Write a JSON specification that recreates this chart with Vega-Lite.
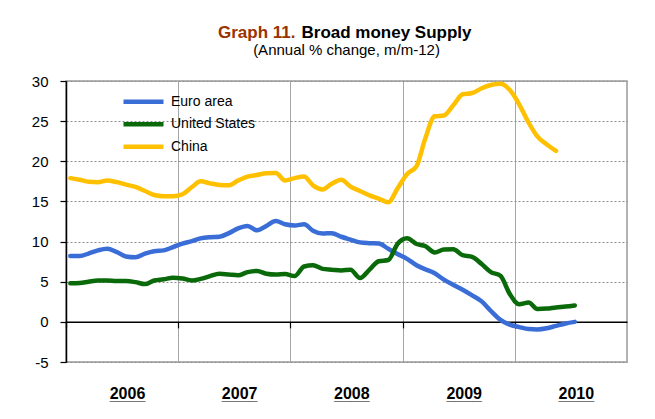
{
  "$schema": "https://vega.github.io/schema/vega-lite/v6.json",
  "width": 561,
  "height": 281,
  "autosize": {"type": "none"},
  "padding": {"left": 66, "top": 81, "right": 28, "bottom": 57},
  "background": "white",
  "config": {
    "font": "Liberation Sans",
    "view": {"stroke": "#9a9a9a", "strokeWidth": 1.5}
  },
  "data": {"values": [
    {"date":"2006-01-15","series":"Euro area","value":8.2},
    {"date":"2006-02-15","series":"Euro area","value":8.2},
    {"date":"2006-03-15","series":"Euro area","value":8.5},
    {"date":"2006-04-15","series":"Euro area","value":8.9},
    {"date":"2006-05-15","series":"Euro area","value":9.1},
    {"date":"2006-06-15","series":"Euro area","value":8.7},
    {"date":"2006-07-15","series":"Euro area","value":8.15},
    {"date":"2006-08-15","series":"Euro area","value":8.05},
    {"date":"2006-09-15","series":"Euro area","value":8.5},
    {"date":"2006-10-15","series":"Euro area","value":8.8},
    {"date":"2006-11-15","series":"Euro area","value":8.9},
    {"date":"2006-12-15","series":"Euro area","value":9.3},
    {"date":"2007-01-15","series":"Euro area","value":9.75},
    {"date":"2007-02-15","series":"Euro area","value":10.05},
    {"date":"2007-03-15","series":"Euro area","value":10.4},
    {"date":"2007-04-15","series":"Euro area","value":10.55},
    {"date":"2007-05-15","series":"Euro area","value":10.6},
    {"date":"2007-06-15","series":"Euro area","value":11.05},
    {"date":"2007-07-15","series":"Euro area","value":11.65},
    {"date":"2007-08-15","series":"Euro area","value":11.95},
    {"date":"2007-09-15","series":"Euro area","value":11.4},
    {"date":"2007-10-15","series":"Euro area","value":11.95},
    {"date":"2007-11-15","series":"Euro area","value":12.55},
    {"date":"2007-12-15","series":"Euro area","value":12.15},
    {"date":"2008-01-15","series":"Euro area","value":12.0},
    {"date":"2008-02-15","series":"Euro area","value":12.15},
    {"date":"2008-03-15","series":"Euro area","value":11.35},
    {"date":"2008-04-15","series":"Euro area","value":11.0},
    {"date":"2008-05-15","series":"Euro area","value":11.05},
    {"date":"2008-06-15","series":"Euro area","value":10.6},
    {"date":"2008-07-15","series":"Euro area","value":10.25},
    {"date":"2008-08-15","series":"Euro area","value":9.9},
    {"date":"2008-09-15","series":"Euro area","value":9.8},
    {"date":"2008-10-15","series":"Euro area","value":9.75},
    {"date":"2008-11-15","series":"Euro area","value":9.1},
    {"date":"2008-12-15","series":"Euro area","value":8.45},
    {"date":"2009-01-15","series":"Euro area","value":7.85},
    {"date":"2009-02-15","series":"Euro area","value":7.05},
    {"date":"2009-03-15","series":"Euro area","value":6.55},
    {"date":"2009-04-15","series":"Euro area","value":6.05},
    {"date":"2009-05-15","series":"Euro area","value":5.25},
    {"date":"2009-06-15","series":"Euro area","value":4.6},
    {"date":"2009-07-15","series":"Euro area","value":4.0},
    {"date":"2009-08-15","series":"Euro area","value":3.3},
    {"date":"2009-09-15","series":"Euro area","value":2.55},
    {"date":"2009-10-15","series":"Euro area","value":1.35},
    {"date":"2009-11-15","series":"Euro area","value":0.25},
    {"date":"2009-12-15","series":"Euro area","value":-0.35},
    {"date":"2010-01-15","series":"Euro area","value":-0.65},
    {"date":"2010-02-15","series":"Euro area","value":-0.9},
    {"date":"2010-03-15","series":"Euro area","value":-0.95},
    {"date":"2010-04-15","series":"Euro area","value":-0.8},
    {"date":"2010-05-15","series":"Euro area","value":-0.5},
    {"date":"2010-06-15","series":"Euro area","value":-0.2},
    {"date":"2010-07-15","series":"Euro area","value":0.0},
    {"date":"2006-01-15","series":"United States","value":4.8},
    {"date":"2006-02-15","series":"United States","value":4.85},
    {"date":"2006-03-15","series":"United States","value":5.0},
    {"date":"2006-04-15","series":"United States","value":5.15},
    {"date":"2006-05-15","series":"United States","value":5.15},
    {"date":"2006-06-15","series":"United States","value":5.1},
    {"date":"2006-07-15","series":"United States","value":5.1},
    {"date":"2006-08-15","series":"United States","value":4.95},
    {"date":"2006-09-15","series":"United States","value":4.7},
    {"date":"2006-10-15","series":"United States","value":5.15},
    {"date":"2006-11-15","series":"United States","value":5.3},
    {"date":"2006-12-15","series":"United States","value":5.5},
    {"date":"2007-01-15","series":"United States","value":5.4},
    {"date":"2007-02-15","series":"United States","value":5.15},
    {"date":"2007-03-15","series":"United States","value":5.35},
    {"date":"2007-04-15","series":"United States","value":5.7},
    {"date":"2007-05-15","series":"United States","value":6.0},
    {"date":"2007-06-15","series":"United States","value":5.9},
    {"date":"2007-07-15","series":"United States","value":5.8},
    {"date":"2007-08-15","series":"United States","value":6.2},
    {"date":"2007-09-15","series":"United States","value":6.35},
    {"date":"2007-10-15","series":"United States","value":6.0},
    {"date":"2007-11-15","series":"United States","value":5.9},
    {"date":"2007-12-15","series":"United States","value":5.95},
    {"date":"2008-01-15","series":"United States","value":5.7},
    {"date":"2008-02-15","series":"United States","value":6.9},
    {"date":"2008-03-15","series":"United States","value":7.05},
    {"date":"2008-04-15","series":"United States","value":6.6},
    {"date":"2008-05-15","series":"United States","value":6.5},
    {"date":"2008-06-15","series":"United States","value":6.4},
    {"date":"2008-07-15","series":"United States","value":6.5},
    {"date":"2008-08-15","series":"United States","value":5.45},
    {"date":"2008-09-15","series":"United States","value":6.5},
    {"date":"2008-10-15","series":"United States","value":7.55},
    {"date":"2008-11-15","series":"United States","value":7.7},
    {"date":"2008-12-15","series":"United States","value":9.7},
    {"date":"2009-01-15","series":"United States","value":10.4},
    {"date":"2009-02-15","series":"United States","value":9.7},
    {"date":"2009-03-15","series":"United States","value":9.45},
    {"date":"2009-04-15","series":"United States","value":8.65},
    {"date":"2009-05-15","series":"United States","value":9.0},
    {"date":"2009-06-15","series":"United States","value":9.05},
    {"date":"2009-07-15","series":"United States","value":8.3},
    {"date":"2009-08-15","series":"United States","value":8.1},
    {"date":"2009-09-15","series":"United States","value":7.2},
    {"date":"2009-10-15","series":"United States","value":6.2},
    {"date":"2009-11-15","series":"United States","value":5.75},
    {"date":"2009-12-15","series":"United States","value":3.5},
    {"date":"2010-01-15","series":"United States","value":2.2},
    {"date":"2010-02-15","series":"United States","value":2.4},
    {"date":"2010-03-15","series":"United States","value":1.6},
    {"date":"2010-04-15","series":"United States","value":1.65},
    {"date":"2010-05-15","series":"United States","value":1.8},
    {"date":"2010-06-15","series":"United States","value":1.9},
    {"date":"2010-07-15","series":"United States","value":2.05},
    {"date":"2006-01-15","series":"China","value":17.9},
    {"date":"2006-02-15","series":"China","value":17.7},
    {"date":"2006-03-15","series":"China","value":17.45},
    {"date":"2006-04-15","series":"China","value":17.4},
    {"date":"2006-05-15","series":"China","value":17.6},
    {"date":"2006-06-15","series":"China","value":17.4},
    {"date":"2006-07-15","series":"China","value":17.1},
    {"date":"2006-08-15","series":"China","value":16.8},
    {"date":"2006-09-15","series":"China","value":16.3},
    {"date":"2006-10-15","series":"China","value":15.8},
    {"date":"2006-11-15","series":"China","value":15.65},
    {"date":"2006-12-15","series":"China","value":15.65},
    {"date":"2007-01-15","series":"China","value":15.9},
    {"date":"2007-02-15","series":"China","value":16.8},
    {"date":"2007-03-15","series":"China","value":17.5},
    {"date":"2007-04-15","series":"China","value":17.25},
    {"date":"2007-05-15","series":"China","value":17.05},
    {"date":"2007-06-15","series":"China","value":17.0},
    {"date":"2007-07-15","series":"China","value":17.6},
    {"date":"2007-08-15","series":"China","value":18.1},
    {"date":"2007-09-15","series":"China","value":18.3},
    {"date":"2007-10-15","series":"China","value":18.5},
    {"date":"2007-11-15","series":"China","value":18.55},
    {"date":"2007-12-15","series":"China","value":17.6},
    {"date":"2008-01-15","series":"China","value":17.9},
    {"date":"2008-02-15","series":"China","value":18.1},
    {"date":"2008-03-15","series":"China","value":17.0},
    {"date":"2008-04-15","series":"China","value":16.5},
    {"date":"2008-05-15","series":"China","value":17.2},
    {"date":"2008-06-15","series":"China","value":17.7},
    {"date":"2008-07-15","series":"China","value":16.85},
    {"date":"2008-08-15","series":"China","value":16.3},
    {"date":"2008-09-15","series":"China","value":15.75},
    {"date":"2008-10-15","series":"China","value":15.35},
    {"date":"2008-11-15","series":"China","value":14.9},
    {"date":"2008-12-15","series":"China","value":16.6},
    {"date":"2009-01-15","series":"China","value":18.4},
    {"date":"2009-02-15","series":"China","value":19.4},
    {"date":"2009-03-15","series":"China","value":22.8},
    {"date":"2009-04-15","series":"China","value":25.6},
    {"date":"2009-05-15","series":"China","value":25.7},
    {"date":"2009-06-15","series":"China","value":27.0},
    {"date":"2009-07-15","series":"China","value":28.35},
    {"date":"2009-08-15","series":"China","value":28.5},
    {"date":"2009-09-15","series":"China","value":29.1},
    {"date":"2009-10-15","series":"China","value":29.5},
    {"date":"2009-11-15","series":"China","value":29.65},
    {"date":"2009-12-15","series":"China","value":28.9},
    {"date":"2010-01-15","series":"China","value":27.1},
    {"date":"2010-02-15","series":"China","value":24.8},
    {"date":"2010-03-15","series":"China","value":23.1},
    {"date":"2010-04-15","series":"China","value":22.1},
    {"date":"2010-05-15","series":"China","value":21.3}
  ]},
  "layer": [
    {
      "mark": {"type": "line", "strokeWidth": 4.5, "interpolate": "monotone", "strokeCap": "round", "strokeJoin": "round"},
      "encoding": {
        "x": {
          "field": "date", "type": "temporal",
          "scale": {"domain": [{"year": 2006, "month": 1, "date": 1, "utc": true}, {"year": 2011, "month": 1, "date": 1, "utc": true}], "nice": false},
          "axis": {
            "orient": "bottom",
            "values": [
              {"year": 2006, "month": 1, "date": 1, "utc": true},
              {"year": 2007, "month": 1, "date": 1, "utc": true},
              {"year": 2008, "month": 1, "date": 1, "utc": true},
              {"year": 2009, "month": 1, "date": 1, "utc": true},
              {"year": 2010, "month": 1, "date": 1, "utc": true}
            ],
            "offset": -40.14,
            "domain": true, "domainColor": "black", "domainWidth": 1.5,
            "ticks": true, "tickColor": "black", "tickSize": 6, "tickWidth": 1.2,
            "grid": true, "gridColor": "#a6a6a6", "gridWidth": 1,
            "labelExpr": "[utcFormat(datum.value, '%Y'), '____']",
            "labelLineHeight": 1,
            "labelOffset": 61, "labelPadding": 71, "labelBaseline": "alphabetic", "labelAlign": "center",
            "labelFont": "Liberation Sans", "labelFontSize": 16, "labelFontWeight": "bold", "labelColor": "black",
            "labelFlush": false, "labelOverlap": false,
            "title": "(Annual % change, m/m-12)",
            "titleX": 280, "titleY": -267.8, "titleAlign": "center", "titleBaseline": "alphabetic",
            "titleFont": "Liberation Sans", "titleFontSize": 15, "titleFontWeight": "normal", "titleColor": "black"
          }
        },
        "y": {
          "field": "value", "type": "quantitative",
          "scale": {"domain": [-5, 30], "nice": false, "zero": false},
          "axis": {
            "values": [-5, 0, 5, 10, 15, 20, 25, 30],
            "labelExpr": "datum.value < 0 ? '-' + abs(datum.value) : '' + datum.value",
            "grid": true, "gridDash": [2, 2], "gridColor": "#8c8c8c", "gridWidth": 1,
            "domainColor": "black", "domainWidth": 1.5,
            "tickColor": "black", "tickSize": 6, "tickWidth": 1.2,
            "labelFont": "Liberation Sans", "labelFontSize": 15, "labelColor": "black", "labelPadding": 12,
            "title": "Graph 11.",
            "titleAngle": 0, "titleX": 229, "titleY": -44, "titleAlign": "right", "titleBaseline": "alphabetic",
            "titleFont": "Liberation Sans", "titleFontSize": 17, "titleFontWeight": "bold", "titleColor": "#993300"
          }
        },
        "color": {
          "field": "series", "type": "nominal",
          "scale": {"domain": ["Euro area", "United States", "China"], "range": ["#3a6ed6", "#0a6a0a", "#ffc000"]},
          "legend": {
            "orient": "none", "legendX": 55, "legendY": 12.7, "title": null,
            "symbolType": "stroke", "symbolSize": 1600, "symbolStrokeWidth": 4.5,
            "labelFont": "Liberation Sans", "labelFontSize": 14, "labelColor": "black", "labelOffset": 5,
            "clipHeight": 16, "rowPadding": 6.5, "padding": 0
          }
        }
      }
    },
    {
      "data": {"values": [{"zero": 0}]},
      "mark": {"type": "rule", "opacity": 0},
      "encoding": {
        "y": {
          "field": "zero", "type": "quantitative",
          "axis": {
            "orient": "right", "labels": false, "ticks": false, "domain": false, "grid": false,
            "title": "Broad money Supply",
            "titleAngle": 0, "titleX": -326, "titleY": -44, "titleAlign": "left", "titleBaseline": "alphabetic",
            "titleFont": "Liberation Sans", "titleFontSize": 17, "titleFontWeight": "bold", "titleColor": "black"
          }
        }
      }
    }
  ],
  "resolve": {"axis": {"y": "independent"}}
}
